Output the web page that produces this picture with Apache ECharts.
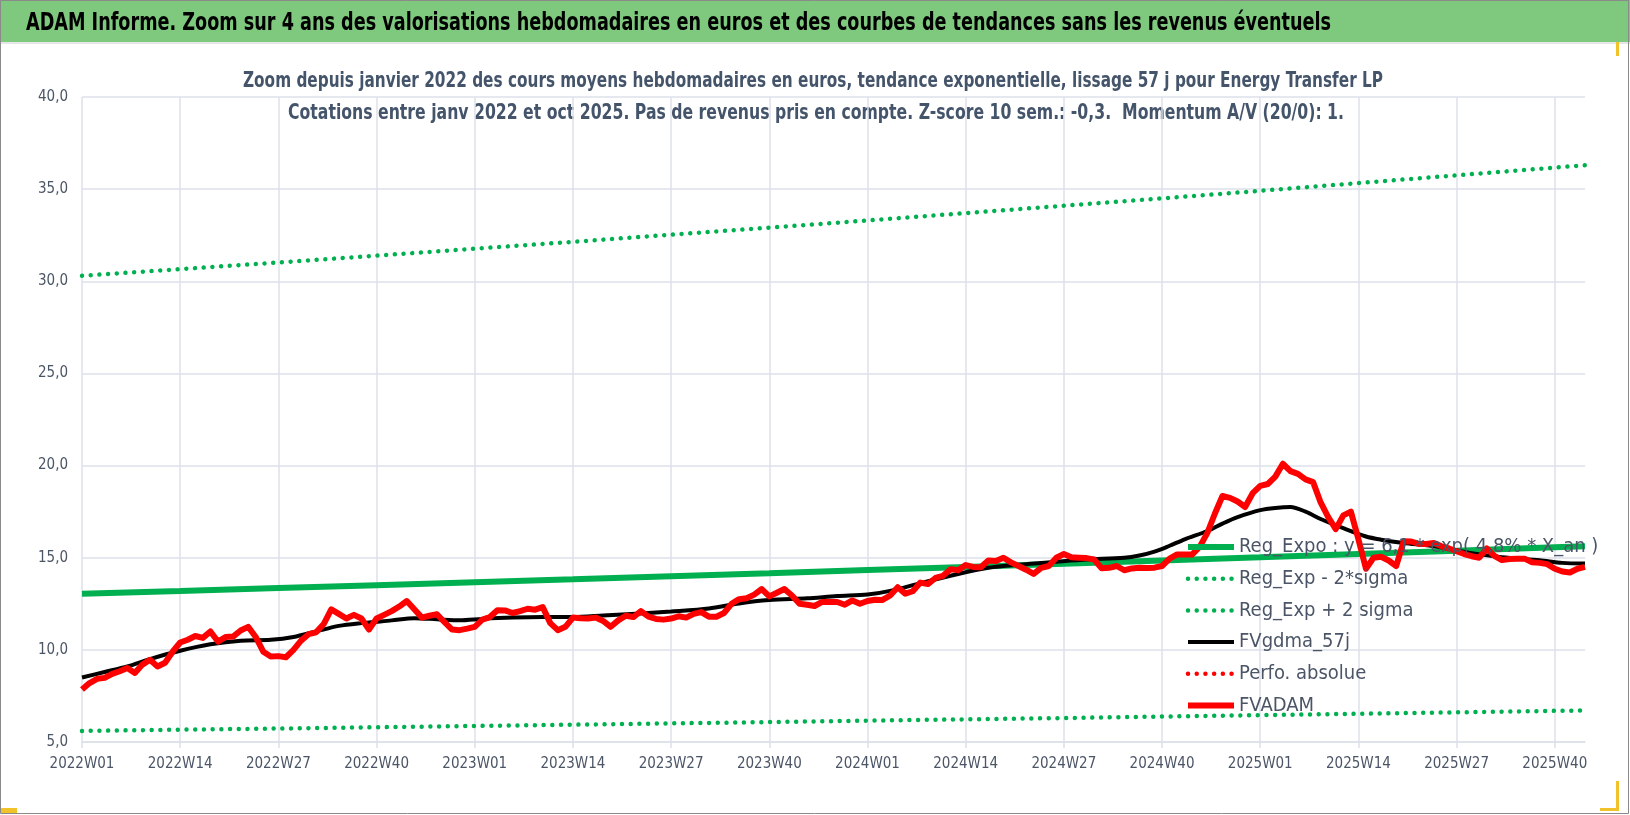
<!DOCTYPE html>
<html>
<head>
<meta charset="utf-8">
<title>ADAM Informe - Energy Transfer LP</title>
<script src="https://cdn.jsdelivr.net/npm/echarts@6/dist/echarts.min.js"></script>
<style>
  html, body { margin: 0; padding: 0; background: #fff; }
  #chart { width: 1630px; height: 815px; }
</style>
</head>
<body>
<div id="chart"></div>
<script>
// weekly categories 2022W01 .. 2025W44
const years = [2022, 2023, 2024, 2025]
const weeks = []
years.forEach(y => {
  for (let w = 1; w <= 52; w++) weeks.push(y + 'W' + (w < 10 ? '0' + w : w))
})
weeks.length = 200

// FVADAM, weekly average price in euros
const fvadam = [
  7.85, 8.2, 8.43, 8.48, 8.7, 8.84, 9.02, 8.75, 9.2, 9.46,
  9.1, 9.3, 9.9, 10.4, 10.55, 10.75, 10.65, 11.0, 10.45, 10.7,
  10.72, 11.05, 11.25, 10.7, 9.9, 9.64, 9.66, 9.6, 10.0, 10.5,
  10.85, 10.95, 11.4, 12.2, 11.95, 11.7, 11.9, 11.7, 11.1, 11.7,
  11.9, 12.1, 12.35, 12.65, 12.2, 11.75, 11.85, 11.93, 11.5, 11.1,
  11.07, 11.15, 11.25, 11.64, 11.78, 12.15, 12.14, 12.0, 12.1, 12.23,
  12.18, 12.32, 11.45, 11.07, 11.25, 11.75, 11.72, 11.7, 11.75, 11.57,
  11.25, 11.6, 11.85, 11.78, 12.1, 11.8, 11.68, 11.64, 11.7, 11.82,
  11.75, 11.95, 12.05, 11.8, 11.8, 12.0, 12.5, 12.75, 12.8, 13.0,
  13.3, 12.9, 13.1, 13.3, 12.95, 12.5, 12.45, 12.38, 12.6, 12.6,
  12.6, 12.45, 12.68, 12.5, 12.65, 12.72, 12.71, 12.95, 13.4, 13.05,
  13.18, 13.65, 13.57, 13.9, 14.02, 14.38, 14.32, 14.6, 14.5, 14.48,
  14.85, 14.82, 15.0, 14.75, 14.55, 14.35, 14.12, 14.45, 14.55, 15.0,
  15.2, 15.02, 15.0, 14.98, 14.9, 14.43, 14.45, 14.55, 14.32, 14.42,
  14.46, 14.44, 14.46, 14.55, 14.95, 15.18, 15.18, 15.18, 15.6, 16.35,
  17.4, 18.35, 18.25, 18.05, 17.75, 18.5, 18.9, 19.0, 19.4, 20.1,
  19.7, 19.55, 19.25, 19.1, 18.0, 17.2, 16.55, 17.3, 17.5, 16.0,
  14.4, 15.0, 15.05, 14.85, 14.55, 15.9, 15.88, 15.75, 15.75, 15.8,
  15.62, 15.5, 15.35, 15.2, 15.08, 15.0, 15.5, 15.1, 14.87, 14.93,
  14.95, 14.95, 14.75, 14.72, 14.65, 14.4, 14.25, 14.2, 14.4, 14.5
]

// FVgdma_57j, smoothed curve: [week index, value]
const fvgdma = [
  [0, 8.5], [3, 8.8], [6, 9.1], [9, 9.5], [13, 9.95], [17, 10.3], [21, 10.5],
  [25, 10.55], [28, 10.7], [31, 11.0], [34, 11.3], [37, 11.45], [41, 11.6],
  [44, 11.72], [47, 11.66], [50, 11.6], [53, 11.68], [57, 11.75], [61, 11.78],
  [65, 11.78], [69, 11.86], [74, 11.97], [78, 12.08], [83, 12.25], [87, 12.52],
  [91, 12.7], [96, 12.8], [100, 12.92], [104, 13.0], [107, 13.2], [111, 13.62],
  [116, 14.12], [120, 14.45], [124, 14.62], [129, 14.78], [133, 14.9], [138, 15.0],
  [140, 15.12], [142, 15.33], [144, 15.65], [146, 16.0], [149, 16.45], [151, 16.85],
  [153, 17.2], [156, 17.58], [158, 17.7], [160, 17.75], [162, 17.5], [164, 17.1],
  [167, 16.6], [170, 16.15], [172, 15.98], [175, 15.8], [179, 15.62], [184, 15.25],
  [188, 15.03], [193, 14.86], [196, 14.72], [199, 14.68]
]

// exponential trend and its +/- 2 sigma band, read at each labelled week
const trendIdx = [0, 13, 26, 39, 52, 65, 78, 91, 104, 117, 130, 143, 156, 169, 182, 195, 199]
const regExpo = [13.04, 13.19, 13.35, 13.51, 13.67, 13.83, 14.0, 14.16, 14.33, 14.5, 14.67, 14.85, 15.02, 15.2, 15.38, 15.57, 15.62]
const regLow = [5.6, 5.67, 5.73, 5.8, 5.87, 5.94, 6.01, 6.08, 6.16, 6.23, 6.3, 6.38, 6.46, 6.53, 6.61, 6.69, 6.71]
const regHigh = [30.3, 30.66, 31.02, 31.39, 31.77, 32.14, 32.53, 32.91, 33.3, 33.7, 34.1, 34.5, 34.91, 35.33, 35.75, 36.17, 36.3]
const perfoAbs = []

const mainTitle = 'ADAM Informe. Zoom sur 4 ans des valorisations hebdomadaires en euros et des courbes de tendances sans les revenus éventuels'
const subLines = [
  'Zoom depuis janvier 2022 des cours moyens hebdomadaires en euros, tendance exponentielle, lissage 57 j pour Energy Transfer LP',
  'Cotations entre janv 2022 et oct 2025. Pas de revenus pris en compte. Z-score 10 sem.: -0,3.  Momentum A/V (20/0): 1.'
]

const pairs = vals => trendIdx.map((i, k) => [i, vals[k]])

const font = "'DejaVu Sans Condensed', 'Liberation Sans', sans-serif"
const slate = '#44546A'
const dots = { type: [0.01, 8.7], cap: 'round', width: 4.5 }

// squeeze a text horizontally so it spans the wanted width (narrow Calibri look)
const ctx = document.createElement('canvas').getContext('2d')
function squeeze(text, fontDecl, width) {
  ctx.font = fontDecl
  return width / ctx.measureText(text).width
}
const titleFont = 'bold 24px ' + font
const subFont = 'bold 21px ' + font

const chart = echarts.init(document.getElementById('chart'))
chart.setOption({
  animation: false,
  backgroundColor: '#fff',
  textStyle: { fontFamily: font },
  graphic: [
    { type: 'rect', shape: { x: 0, y: 0, width: 1630, height: 42 }, style: { fill: '#7FC97F' }, z: -10 },
    { type: 'rect', shape: { x: 0.5, y: 0.5, width: 1628, height: 813 }, style: { fill: null, stroke: '#8a8a8a', lineWidth: 1 }, z: 10 },
    { type: 'rect', shape: { x: 0, y: 42, width: 1630, height: 2 }, style: { fill: '#e6e6e6' }, z: -9 },
    { type: 'rect', shape: { x: 1, y: 808, width: 16, height: 5 }, style: { fill: '#f2c22b' } },
    { type: 'rect', shape: { x: 1616, y: 42, width: 3, height: 14 }, style: { fill: '#f2c22b' } },
    { type: 'rect', shape: { x: 1616, y: 781, width: 3, height: 30 }, style: { fill: '#f2c22b' } },
    { type: 'rect', shape: { x: 1600, y: 808, width: 19, height: 3 }, style: { fill: '#f2c22b' } },
    {
      type: 'text', x: 26, y: 24, scaleX: squeeze(mainTitle, titleFont, 1305),
      style: { text: mainTitle, font: titleFont, fill: '#000', align: 'left', verticalAlign: 'middle' }
    },
    {
      type: 'text', x: 813, y: 82, scaleX: squeeze(subLines[0], subFont, 1140),
      style: { text: subLines[0], font: subFont, fill: slate, align: 'center', verticalAlign: 'middle' }
    },
    {
      type: 'text', x: 816, y: 114, scaleX: squeeze(subLines[1], subFont, 1056),
      style: { text: subLines[1], font: subFont, fill: slate, align: 'center', verticalAlign: 'middle' }
    }
  ],
  legend: {
    orient: 'vertical',
    left: 1180, top: 531,
    itemWidth: 46, itemHeight: 14, itemGap: 9.7,
    itemStyle: { opacity: 0 },
    lineStyle: { width: 'inherit' },
    textStyle: { fontFamily: font, fontSize: 20, color: '#4B5566', lineHeight: 22 },
    data: ['Reg_Expo : y = 6,1 * exp( 4,8% * X_an )', 'Reg_Exp - 2*sigma', 'Reg_Exp + 2 sigma', 'FVgdma_57j', 'Perfo. absolue', 'FVADAM']
  },
  grid: { left: 82, right: 45, top: 97, bottom: 73 },
  xAxis: {
    type: 'category',
    data: weeks,
    boundaryGap: false,
    axisLine: { lineStyle: { color: '#DCE0E8', width: 1.5 } },
    axisTick: { show: true, interval: 12, length: 6, lineStyle: { color: '#DCE0E8', width: 1.5 } },
    axisLabel: { interval: 12, color: '#4B5566', fontSize: 15, fontFamily: font, margin: 15 },
    splitLine: { show: true, interval: 12, lineStyle: { color: '#DCE0E8', width: 1.5 } }
  },
  yAxis: {
    type: 'value',
    min: 5, max: 40, interval: 5,
    axisLine: { show: false },
    axisTick: { show: false },
    axisLabel: { color: '#4B5566', fontSize: 15, fontFamily: font, margin: 14, formatter: v => v.toFixed(1).replace('.', ',') },
    splitLine: { lineStyle: { color: '#DCE0E8', width: 1.5 } }
  },
  series: [
    {
      name: 'Reg_Expo : y = 6,1 * exp( 4,8% * X_an )', type: 'line', data: pairs(regExpo),
      showSymbol: false, symbol: 'none', lineStyle: { color: '#00B050', width: 6 }, itemStyle: { color: '#00B050' }
    },
    {
      name: 'Reg_Exp - 2*sigma', type: 'line', data: pairs(regLow),
      showSymbol: false, symbol: 'none', lineStyle: Object.assign({ color: '#00B050' }, dots), itemStyle: { color: '#00B050' }
    },
    {
      name: 'Reg_Exp + 2 sigma', type: 'line', data: pairs(regHigh),
      showSymbol: false, symbol: 'none', lineStyle: Object.assign({ color: '#00B050' }, dots), itemStyle: { color: '#00B050' }
    },
    {
      name: 'FVgdma_57j', type: 'line', data: fvgdma, smooth: 0.3,
      showSymbol: false, symbol: 'none', lineStyle: { color: '#000', width: 4 }, itemStyle: { color: '#000' }
    },
    {
      name: 'Perfo. absolue', type: 'line', data: perfoAbs,
      showSymbol: false, symbol: 'none', lineStyle: Object.assign({ color: '#FF0000' }, dots), itemStyle: { color: '#FF0000' }
    },
    {
      name: 'FVADAM', type: 'line', data: fvadam,
      showSymbol: false, symbol: 'none', lineStyle: { color: '#FF0000', width: 6, join: 'round' }, itemStyle: { color: '#FF0000' }
    }
  ]
})
</script>
</body>
</html>
